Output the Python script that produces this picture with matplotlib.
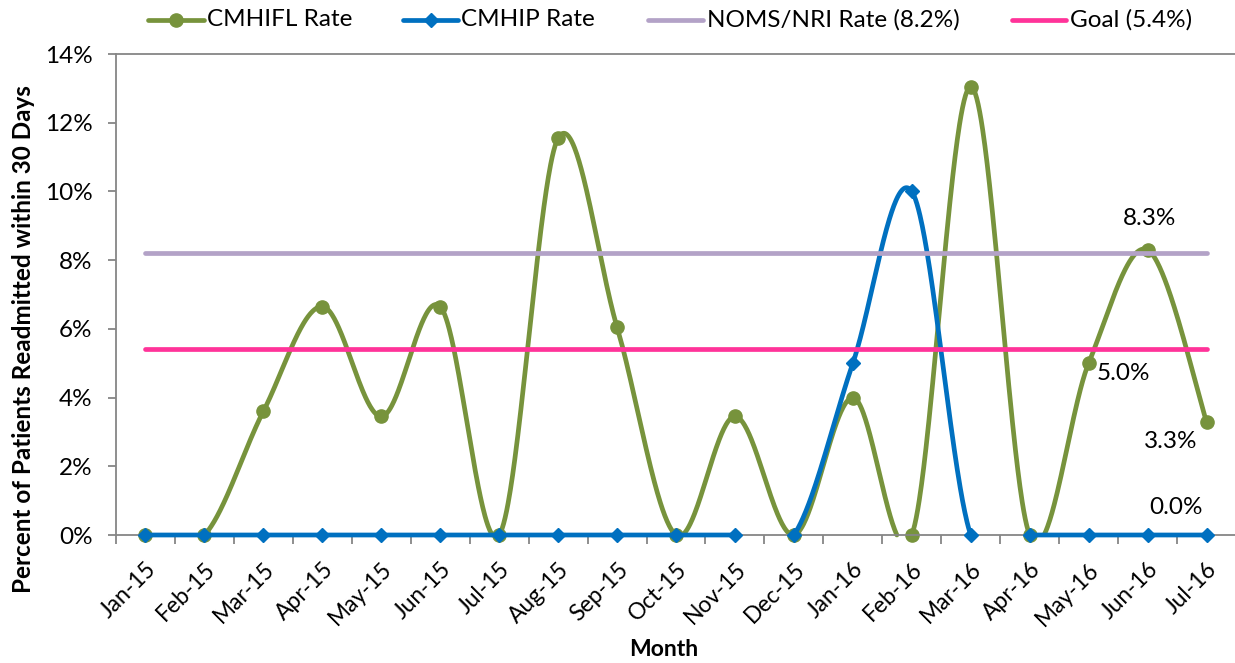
import numpy as np
import matplotlib
matplotlib.use("Agg")
import matplotlib.pyplot as plt
from matplotlib.lines import Line2D

plt.rcParams['font.family'] = ['Lato', 'DejaVu Sans']

months = ["Jan-15", "Feb-15", "Mar-15", "Apr-15", "May-15", "Jun-15", "Jul-15",
          "Aug-15", "Sep-15", "Oct-15", "Nov-15", "Dec-15", "Jan-16", "Feb-16",
          "Mar-16", "Apr-16", "May-16", "Jun-16", "Jul-16"]
cmhifl = [0.0, 0.0, 3.6, 6.65, 3.45, 6.65, 0.0, 11.55, 6.05, 0.0, 3.45, 0.0,
          4.0, 0.0, 13.05, 0.0, 5.0, 8.3, 3.3]
cmhip = [0.0, 0.0, 0.0, 0.0, 0.0, 0.0, 0.0, 0.0, 0.0, 0.0, 0.0, 0.0,
         5.0, 10.0, 0.0, 0.0, 0.0, 0.0, 0.0]
noms = [8.2, 8.2, 8.2, 8.2, 8.2, 8.2, 8.2, 8.2, 8.2, 8.2, 8.2, 8.2,
        8.2, 8.2, 8.2, 8.2, 8.2, 8.2, 8.2]
goal = [5.4, 5.4, 5.4, 5.4, 5.4, 5.4, 5.4, 5.4, 5.4, 5.4, 5.4, 5.4,
        5.4, 5.4, 5.4, 5.4, 5.4, 5.4, 5.4]
yticks = [0, 2, 4, 6, 8, 10, 12, 14]
series_names = ["CMHIFL Rate", "CMHIP Rate", "NOMS/NRI Rate (8.2%)", "Goal (5.4%)"]

GREEN = "#77933C"
BLUE = "#0070C0"
PURPLE = "#B3A2C7"
PINK = "#FF3399"
GRAY = "#868686"

FS = 17.5
FSX = 16.5
FSB = 16.5
LW = 3.4

W, H = 1235, 663
fig = plt.figure(figsize=(W / 100, H / 100), dpi=100)


def fx(px):
    return px / W


def fy(py):
    return 1 - py / H


ax = fig.add_axes([fx(116), fy(535), fx(1236) - fx(116), fy(54) - fy(535)])


def excel_smooth(ys, n=80):
    y = np.asarray(ys, float)
    x = np.arange(len(y), dtype=float)
    P = np.column_stack([x, y])
    Pp = np.vstack([P[0], P, P[-1]])
    t = np.linspace(0, 1, n)[:, None]
    pts = []
    for i in range(len(P) - 1):
        p0 = Pp[i + 1]
        p3 = Pp[i + 2]
        c1 = p0 + (Pp[i + 2] - Pp[i]) / 6.0
        c2 = p3 - (Pp[i + 3] - Pp[i + 1]) / 6.0
        seg = ((1 - t) ** 3) * p0 + 3 * ((1 - t) ** 2) * t * c1 + 3 * (1 - t) * t ** 2 * c2 + t ** 3 * p3
        pts.append(seg if i == 0 else seg[1:])
    pts = np.vstack(pts)
    sx, sy = pts[:, 0], pts[:, 1].copy()
    sy[sy < -1e-9] = np.nan
    return sx, sy


x = np.arange(len(months))

# CMHIFL
sx, sy = excel_smooth(cmhifl)
ax.plot(sx, sy, color=GREEN, lw=LW, solid_capstyle='round', clip_on=False, zorder=2)
ax.plot(x, cmhifl, linestyle='none', marker='o', ms=9.5, color=GREEN, clip_on=False, zorder=2.1)

# CMHIP
sx, sy = excel_smooth(cmhip)
ax.plot(sx, sy, color=BLUE, lw=LW, solid_capstyle='round', clip_on=False, zorder=3)
ax.plot(x, cmhip, linestyle='none', marker='D', ms=7.5, color=BLUE, clip_on=False, zorder=3.1)

# reference lines
ax.plot(x, noms, color=PURPLE, lw=LW, solid_capstyle='round', clip_on=False, zorder=4)
ax.plot(x, goal, color=PINK, lw=LW, solid_capstyle='round', clip_on=False, zorder=5)

ax.set_xlim(-0.5, len(months) - 0.5)
ax.set_ylim(0, 14)

ax.spines['right'].set_visible(False)
for s in ['left', 'bottom', 'top']:
    ax.spines[s].set_color(GRAY)
    ax.spines[s].set_linewidth(1.3)
ax.spines['top'].set_zorder(0.5)

ax.set_yticks(yticks)
ax.set_yticklabels([f"{v}%" for v in yticks])
ax.tick_params(axis='y', direction='out', length=6, width=1.3, color=GRAY, pad=11,
               labelsize=FS, labelcolor='black')

ax.set_xticks(x)
ax.set_xticklabels(months, rotation=45, ha='right', va='top', rotation_mode='anchor')
ax.set_xticks(np.arange(-0.5, len(months), 1.0), minor=True)
ax.tick_params(axis='x', which='major', length=0, pad=17, labelsize=FSX, labelcolor='black')
ax.tick_params(axis='x', which='minor', direction='out', length=6.5, width=1.3, color=GRAY)

fig.text(fx(24), fy(339), "Percent of Patients Readmitted within 30 Days", rotation=90,
         ha='center', va='center', fontsize=17.5, fontweight='bold')
fig.text(fx(664), fy(649), "Month", ha='center', va='center', fontsize=FSB, fontweight='bold')

# data labels
lbl_kw = dict(textcoords='offset pixels', ha='center', va='center', fontsize=FS,
              color='black', zorder=6, annotation_clip=False)
ax.annotate(f"{cmhifl[16]:.1f}%", (16, cmhifl[16]), xytext=(35, -10), **lbl_kw)
ax.annotate(f"{cmhifl[17]:.1f}%", (17, cmhifl[17]), xytext=(2, 31), **lbl_kw)
ax.annotate(f"{cmhifl[18]:.1f}%", (18, cmhifl[18]), xytext=(-36, -20), **lbl_kw)
ax.annotate(f"{cmhip[18]:.1f}%", (18, cmhip[18]), xytext=(-31, 28), **lbl_kw)

# legend (manual)
leg_y = fy(20)
entries = [
    (148, 204, 207, GREEN, 'o', 9.5),
    (403, 458, 461, BLUE, 'D', 7.5),
    (648, 703, 707, PURPLE, None, 0),
    (1012, 1066, 1070, PINK, None, 0),
]
for (x0, x1, tx, col, mk, ms), name in zip(entries, series_names):
    ln = Line2D([fx(x0), fx(x1)], [leg_y, leg_y], transform=fig.transFigure, color=col,
                lw=LW, solid_capstyle='round')
    fig.add_artist(ln)
    if mk:
        m = Line2D([fx((x0 + x1) / 2)], [leg_y], transform=fig.transFigure, color=col,
                   marker=mk, ms=ms, linestyle='none')
        fig.add_artist(m)
    fig.text(fx(tx), leg_y, name, ha='left', va='center', fontsize=FS, color='black')

fig.savefig("out.png", dpi=100)
